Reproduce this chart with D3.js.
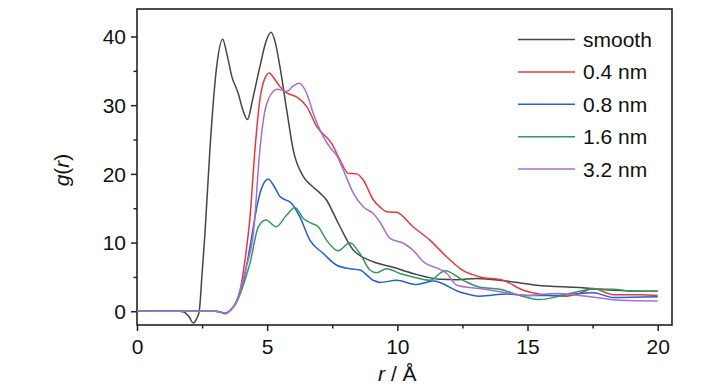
<!DOCTYPE html>
<html><head><meta charset="utf-8">
<script src="https://cdn.jsdelivr.net/npm/d3@7/dist/d3.min.js"></script>
<style>body{margin:0;background:#fff;}svg{display:block;font-family:"Liberation Sans",Arial,sans-serif;}</style>
</head><body><svg id="chart" width="728" height="390"></svg>
<script>
const seriesNames = ["smooth","0.4 nm","0.8 nm","1.6 nm","3.2 nm"];
const seriesColors = ["#454545","#e8383d","#1f62d6","#2f9a5c","#a56fd8"];
const xTicks = [0,5,10,15,20];
const yTicks = [0,10,20,30,40];

const smoothR = [0,1.6,1.8,2.0,2.16,2.3,2.39,2.5,2.61,2.8,3.06,3.29,3.45,3.64,3.89,4.05,4.24,4.45,4.72,4.95,5.15,5.32,5.49,5.75,6.0,6.39,6.7,7.03,7.28,7.55,7.8,8.31,9.08,9.84,10.6,11.64,12.3,13.04,14.45,15.35,17.0,18.3,20];
const smoothG = [0,0,-0.1,-0.8,-1.7,-1.0,0,5.5,11.3,23.5,35.6,39.6,37.5,34.2,31.7,29.5,27.9,31.0,35.6,39.2,40.6,39.0,35.6,29.3,23.5,19.6,18.3,17.2,16.2,14.2,12.3,8.9,7.2,6.4,5.5,4.66,4.6,4.76,4.27,3.8,3.45,3.06,2.9];

const r04 = [0,3.0,3.2,3.38,3.6,3.8,3.96,4.15,4.34,4.53,4.72,4.9,5.08,5.25,5.49,5.75,6.13,6.52,6.9,7.48,7.8,8.11,8.44,8.69,9.08,9.33,9.59,9.97,10.6,11.25,11.9,12.53,13.17,14.07,14.84,15.48,16.5,17.0,17.52,18.3,19.32,20];
const g04 = [0,0,-0.1,-0.35,0.2,1.3,3.1,7.5,13.7,23.5,30.8,33.8,34.7,34.0,32.7,31.8,31.2,29.8,26.9,24.4,22.0,20.1,20.0,19.1,16.2,15.2,14.5,14.4,12.3,10.35,7.9,5.9,5.0,4.5,3.06,2.48,2.2,2.6,3.3,2.4,2.4,2.3];

const r08 = [0,3.0,3.2,3.38,3.6,3.8,3.96,4.15,4.34,4.66,4.85,5.04,5.25,5.49,5.94,6.26,6.64,7.16,7.67,8.18,8.56,9.08,9.33,9.97,10.74,11.38,12.4,13.17,14.2,14.97,16.12,17.52,18.3,20];
const g08 = [0,0,-0.1,-0.3,0.2,1.2,2.7,5.5,9.4,16.2,18.5,19.2,18.3,16.7,15.7,13.7,10.35,8.4,6.7,6.2,6.0,4.5,4.2,4.5,3.9,4.4,2.8,2.2,2.5,2.3,2.3,2.7,2.0,2.1];

const r16 = [0,3.0,3.2,3.38,3.6,3.8,3.96,4.15,4.34,4.66,4.95,5.34,5.75,6.07,6.39,6.71,6.96,7.28,7.73,8.18,8.56,8.95,9.2,9.59,10.1,10.6,11.25,11.83,12.53,13.17,13.94,14.71,15.48,16.12,16.75,17.52,18.3,19.06,20];
const g16 = [0,0,-0.1,-0.3,0.2,1.1,2.5,4.6,7.0,12.3,13.3,12.3,14.0,15.1,13.5,12.8,12.3,10.35,8.8,9.96,8.4,6.0,5.6,6.2,5.5,5.0,4.5,5.9,4.5,3.5,3.2,2.3,1.7,2.1,2.7,3.25,3.2,2.9,2.9];

const r32 = [0,3.0,3.2,3.38,3.6,3.8,3.96,4.2,4.47,4.72,4.92,5.23,5.39,5.75,6.0,6.23,6.52,6.77,7.09,7.48,7.67,7.92,8.31,8.69,9.08,9.33,9.72,10.23,10.6,11.0,11.64,11.9,12.28,13.17,14.2,14.97,16.12,17.0,17.65,18.55,20];
const g32 = [0,0,-0.1,-0.35,0.2,1.2,3.0,6.5,11.3,23.5,29.3,32.0,32.3,32.0,32.8,33.2,31.7,28.8,25.9,23.5,22.7,20.6,17.2,15.2,14.2,13.0,10.6,9.9,8.9,7.2,6.1,5.5,3.8,3.3,2.7,2.3,2.6,2.3,2.0,1.6,1.5];

const allR = [smoothR, r04, r08, r16, r32];
const allG = [smoothG, g04, g08, g16, g32];

const svg = d3.select("#chart");
const L = 137, R = 672, T = 9, B = 325;
const x = d3.scaleLinear().domain([0, 20.55]).range([L, R]);
const y = d3.scaleLinear().domain([-2, 44]).range([B, T]);

// frame
svg.append("rect").attr("x", L).attr("y", T).attr("width", R - L).attr("height", B - T)
  .attr("fill", "none").attr("stroke", "#222").attr("stroke-width", 1.6);

// lines
const line = d3.line().x(d => x(d[0])).y(d => y(d[1])).curve(d3.curveMonotoneX);
const plot = svg.append("g");
allR.forEach((rs, i) => {
  const pts = rs.map((r, k) => [r, allG[i][k]]);
  plot.append("path").attr("d", line(pts)).attr("fill", "none")
    .attr("stroke", seriesColors[i]).attr("stroke-width", 1.5);
});

// axes
const xAxis = d3.axisBottom(x).tickValues(xTicks).tickSize(6).tickPadding(4).tickFormat(d3.format("d"));
const gx = svg.append("g").attr("transform", `translate(0,${B})`).call(xAxis);
const xMinor = d3.axisBottom(x).tickValues([2.5,7.5,12.5,17.5]).tickSize(3.5).tickFormat("");
svg.append("g").attr("transform", `translate(0,${B})`).call(xMinor);
const yAxis = d3.axisLeft(y).tickValues(yTicks).tickSize(6).tickPadding(5).tickFormat(d3.format("d"));
const gy = svg.append("g").attr("transform", `translate(${L},0)`).call(yAxis);
const yMinor = d3.axisLeft(y).tickValues([5,15,25,35]).tickSize(3.5).tickFormat("");
svg.append("g").attr("transform", `translate(${L},0)`).call(yMinor);
svg.selectAll(".domain").remove();
svg.selectAll(".tick line").attr("stroke", "#222").attr("stroke-width", 1.5);
svg.selectAll(".tick text").attr("fill", "#111").style("font-size", "21px")
  .style("font-family", "'Liberation Sans', Arial, sans-serif");
gx.selectAll(".tick text").attr("dy", "0.9em");
gy.selectAll(".tick text").attr("dy", "0.35em");

// axis titles
const xt = svg.append("text").attr("x", (x(0) + x(20)) / 2).attr("y", 381).attr("text-anchor", "middle")
  .style("font-size", "21px").attr("fill", "#111");
xt.append("tspan").style("font-style", "italic").text("r");
xt.append("tspan").text(" / Å");
const yt = svg.append("text").attr("transform", "translate(69,170) rotate(-90)").attr("text-anchor", "middle")
  .style("font-size", "21px").attr("fill", "#111");
yt.append("tspan").style("font-style", "italic").text("g");
yt.append("tspan").text("(");
yt.append("tspan").style("font-style", "italic").text("r");
yt.append("tspan").text(")");

// legend
const lg = svg.append("g");
seriesNames.forEach((n, i) => {
  const yy = 39.5 + i * 32.4;
  lg.append("line").attr("x1", 518).attr("x2", 575).attr("y1", yy).attr("y2", yy)
    .attr("stroke", seriesColors[i]).attr("stroke-width", 1.5);
  lg.append("text").attr("x", 583).attr("y", yy + 7.5).text(n)
    .style("font-size", "21px").attr("fill", "#111");
});
</script></body></html>
